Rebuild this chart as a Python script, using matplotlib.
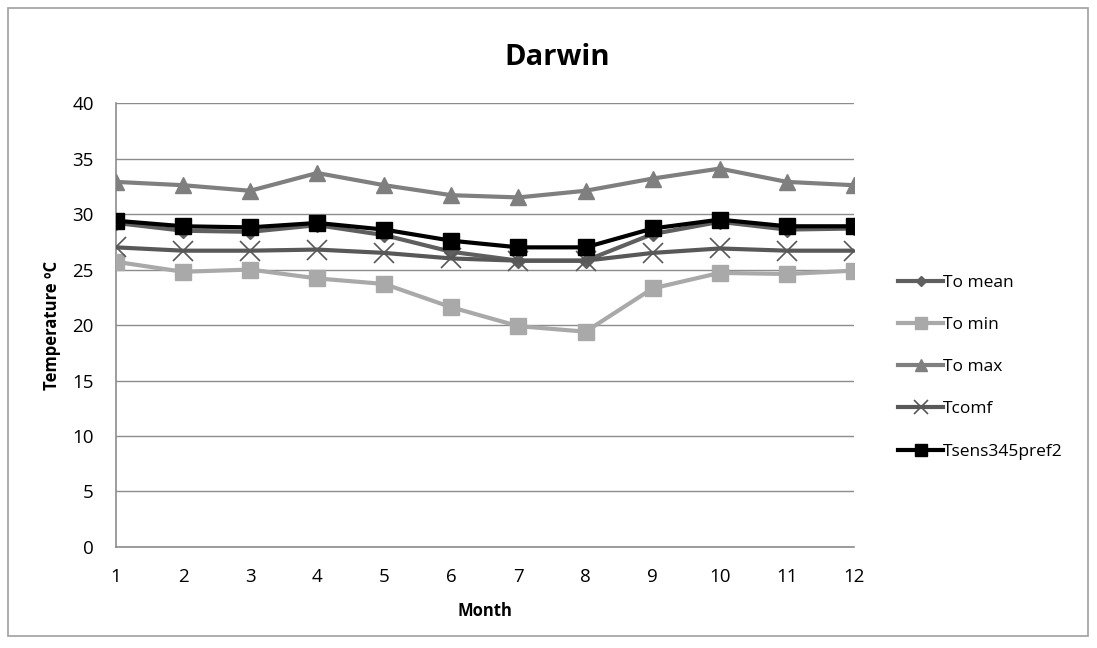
import matplotlib.pyplot as plt
from matplotlib.patches import Rectangle

plt.rcParams['font.family'] = ['Open Sans', 'DejaVu Sans']

months = [1, 2, 3, 4, 5, 6, 7, 8, 9, 10, 11, 12]
to_mean = [29.2, 28.5, 28.4, 29.0, 28.1, 26.6, 25.8, 25.8, 28.2, 29.3, 28.6, 28.7]
to_min = [25.7, 24.8, 25.0, 24.2, 23.7, 21.6, 19.9, 19.4, 23.3, 24.7, 24.6, 24.9]
to_max = [32.9, 32.6, 32.1, 33.7, 32.6, 31.7, 31.5, 32.1, 33.2, 34.1, 32.9, 32.6]
tcomf = [27.0, 26.7, 26.7, 26.8, 26.5, 26.0, 25.8, 25.8, 26.5, 26.9, 26.7, 26.7]
tsens = [29.4, 28.9, 28.8, 29.2, 28.6, 27.6, 27.0, 27.0, 28.7, 29.5, 28.9, 28.9]

fig = plt.figure(figsize=(10.97, 6.48), dpi=100)
fig.patches.append(Rectangle((0.007, 0.018), 0.985, 0.970, transform=fig.transFigure,
                             fill=False, edgecolor='#a0a0a0', linewidth=1.2))
ax = fig.add_axes([0.1057, 0.1559, 0.6727, 0.685])

ax.plot(months, to_mean, color='#5f5f5f', lw=3, marker='D', ms=7, label='To mean', zorder=3)
ax.plot(months, to_min, color='#a9a9a9', lw=3, marker='s', ms=11, label='To min', zorder=3)
ax.plot(months, to_max, color='#7f7f7f', lw=3, marker='^', ms=12, label='To max', zorder=3)
ax.plot(months, tcomf, color='#585858', lw=3, marker='x', ms=14, mew=1.2, label='Tcomf', zorder=3)
ax.plot(months, tsens, color='black', lw=3, marker='s', ms=12, label='Tsens345pref2', zorder=4)

ax.set_xlim(1, 12)
ax.set_ylim(0, 40)
ax.set_xticks(months)
ax.set_yticks(range(0, 41, 5))
ax.yaxis.grid(True, color='#8c8c8c', lw=1)
ax.set_axisbelow(True)
for s in ['top', 'right']:
    ax.spines[s].set_visible(False)
for s in ['left', 'bottom']:
    ax.spines[s].set_color('#8c8c8c')
    ax.spines[s].set_linewidth(1.2)
ax.tick_params(length=0, labelsize=13.5, pad=15)
ax.tick_params(axis='y', pad=16)
ax.set_xlabel('Month', fontsize=12, fontweight='bold', labelpad=12)
ax.set_ylabel('Temperature ºC', fontsize=12, fontweight='bold', labelpad=8)
fig.text(0.508, 0.912, 'Darwin', ha='center', va='center', fontsize=21, fontweight='bold')

ax.legend(loc='center left', bbox_to_anchor=(1.06, 0.405), frameon=False, fontsize=12.5,
          handlelength=2.6, handletextpad=0.0, labelspacing=1.5, borderpad=0,
          borderaxespad=0, markerscale=0.75)

fig.savefig('out.png', dpi=100)
